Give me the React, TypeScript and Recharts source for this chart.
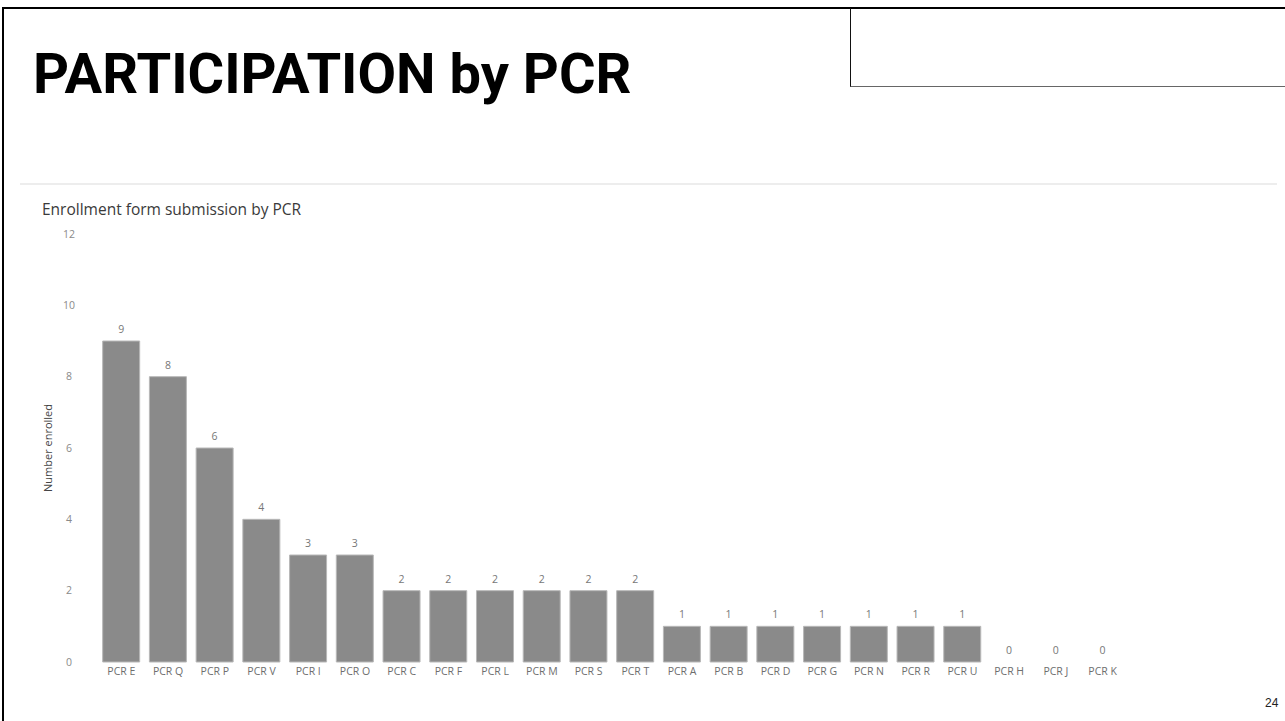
import { BarChart, Bar, XAxis, YAxis, LabelList, Rectangle } from "recharts";

const categories = [
  "PCR E", "PCR Q", "PCR P", "PCR V", "PCR I", "PCR O", "PCR C", "PCR F",
  "PCR L", "PCR M", "PCR S", "PCR T", "PCR A", "PCR B", "PCR D", "PCR G",
  "PCR N", "PCR R", "PCR U", "PCR H", "PCR J", "PCR K",
];
const enrolled = [9, 8, 6, 4, 3, 3, 2, 2, 2, 2, 2, 2, 1, 1, 1, 1, 1, 1, 1, 0, 0, 0];
const yTicks = [0, 2, 4, 6, 8, 10, 12];

const data = categories.map((name, i) => ({ name, enrolled: enrolled[i] }));

const chartFont = "'Open Sans', 'DejaVu Sans', sans-serif";

const YTick = (props: any) => {
  const { y, payload } = props;
  return (
    <text x={69} y={y} dy="0.35em" textAnchor="middle" fontSize={10.5} fill="#8a8a8a" fontFamily={chartFont}>
      {payload.value}
    </text>
  );
};

// zero-value bars keep a hairline rect so their "0" label still gets placed, but nothing is painted
const BarShape = (props: any) =>
  props.payload && props.payload.enrolled === 0 ? <g /> : <Rectangle {...props} />;

export default function App() {
  return (
    <div style={{ position: "absolute", left: 0, top: 0, width: 1285, height: 721, background: "#fff", overflow: "hidden" }}>
      {/* slide frame */}
      <div style={{ position: "absolute", left: 2, top: 7, width: 1285, height: 2, background: "#000" }} />
      <div style={{ position: "absolute", left: 2, top: 7, width: 2, height: 721, background: "#000" }} />
      <div style={{ position: "absolute", left: 850, top: 8, width: 440, height: 78, borderLeft: "1px solid #111", borderBottom: "1px solid #666" }} />

      <div style={{ position: "absolute", left: 33, top: 46, fontFamily: "Roboto, sans-serif", fontWeight: 700, fontSize: 56, color: "#000", whiteSpace: "nowrap", lineHeight: 1 }}>
        PARTICIPATION by PCR
      </div>

      <div style={{ position: "absolute", left: 20, top: 183, width: 1257, height: 2, background: "#ededed" }} />

      <div style={{ position: "absolute", left: 42, top: 202, fontFamily: chartFont, fontSize: 15.5, color: "#3a3a3a", whiteSpace: "nowrap", lineHeight: 1 }}>
        Enrollment form submission by PCR
      </div>

      <div style={{ position: "absolute", left: 0, top: 220 }}>
        <BarChart width={1140} height={480} data={data} margin={{ top: 14, right: 14, bottom: 8, left: 20 }} barCategoryGap="10%">
          <XAxis
            dataKey="name"
            height={30}
            axisLine={false}
            tickLine={false}
            tickSize={0}
            tickMargin={6}
            interval={0}
            tick={{ fontSize: 10.5, fill: "#6e6e6e", fontFamily: chartFont }}
          />
          <YAxis
            width={78}
            domain={[0, 12]}
            ticks={yTicks}
            axisLine={false}
            tickLine={false}
            tick={<YTick />}
            label={{
              value: "Number enrolled",
              angle: -90,
              position: "insideLeft",
              offset: 28,
              fontSize: 11,
              fill: "#444",
              fontFamily: chartFont,
              style: { textAnchor: "middle" },
            }}
          />
          <Bar
            dataKey="enrolled"
            fill="#8a8a8a"
            stroke="#b8b8b8"
            strokeWidth={1}
            minPointSize={0.01}
            shape={<BarShape />}
            isAnimationActive={false}
          >
            <LabelList dataKey="enrolled" position="top" offset={8} fontSize={10.5} fill="#777" fontFamily={chartFont} />
          </Bar>
        </BarChart>
      </div>

      <div style={{ position: "absolute", left: 1265, top: 696, fontFamily: "'Liberation Sans', sans-serif", fontSize: 12, color: "#222" }}>
        24
      </div>
    </div>
  );
}
